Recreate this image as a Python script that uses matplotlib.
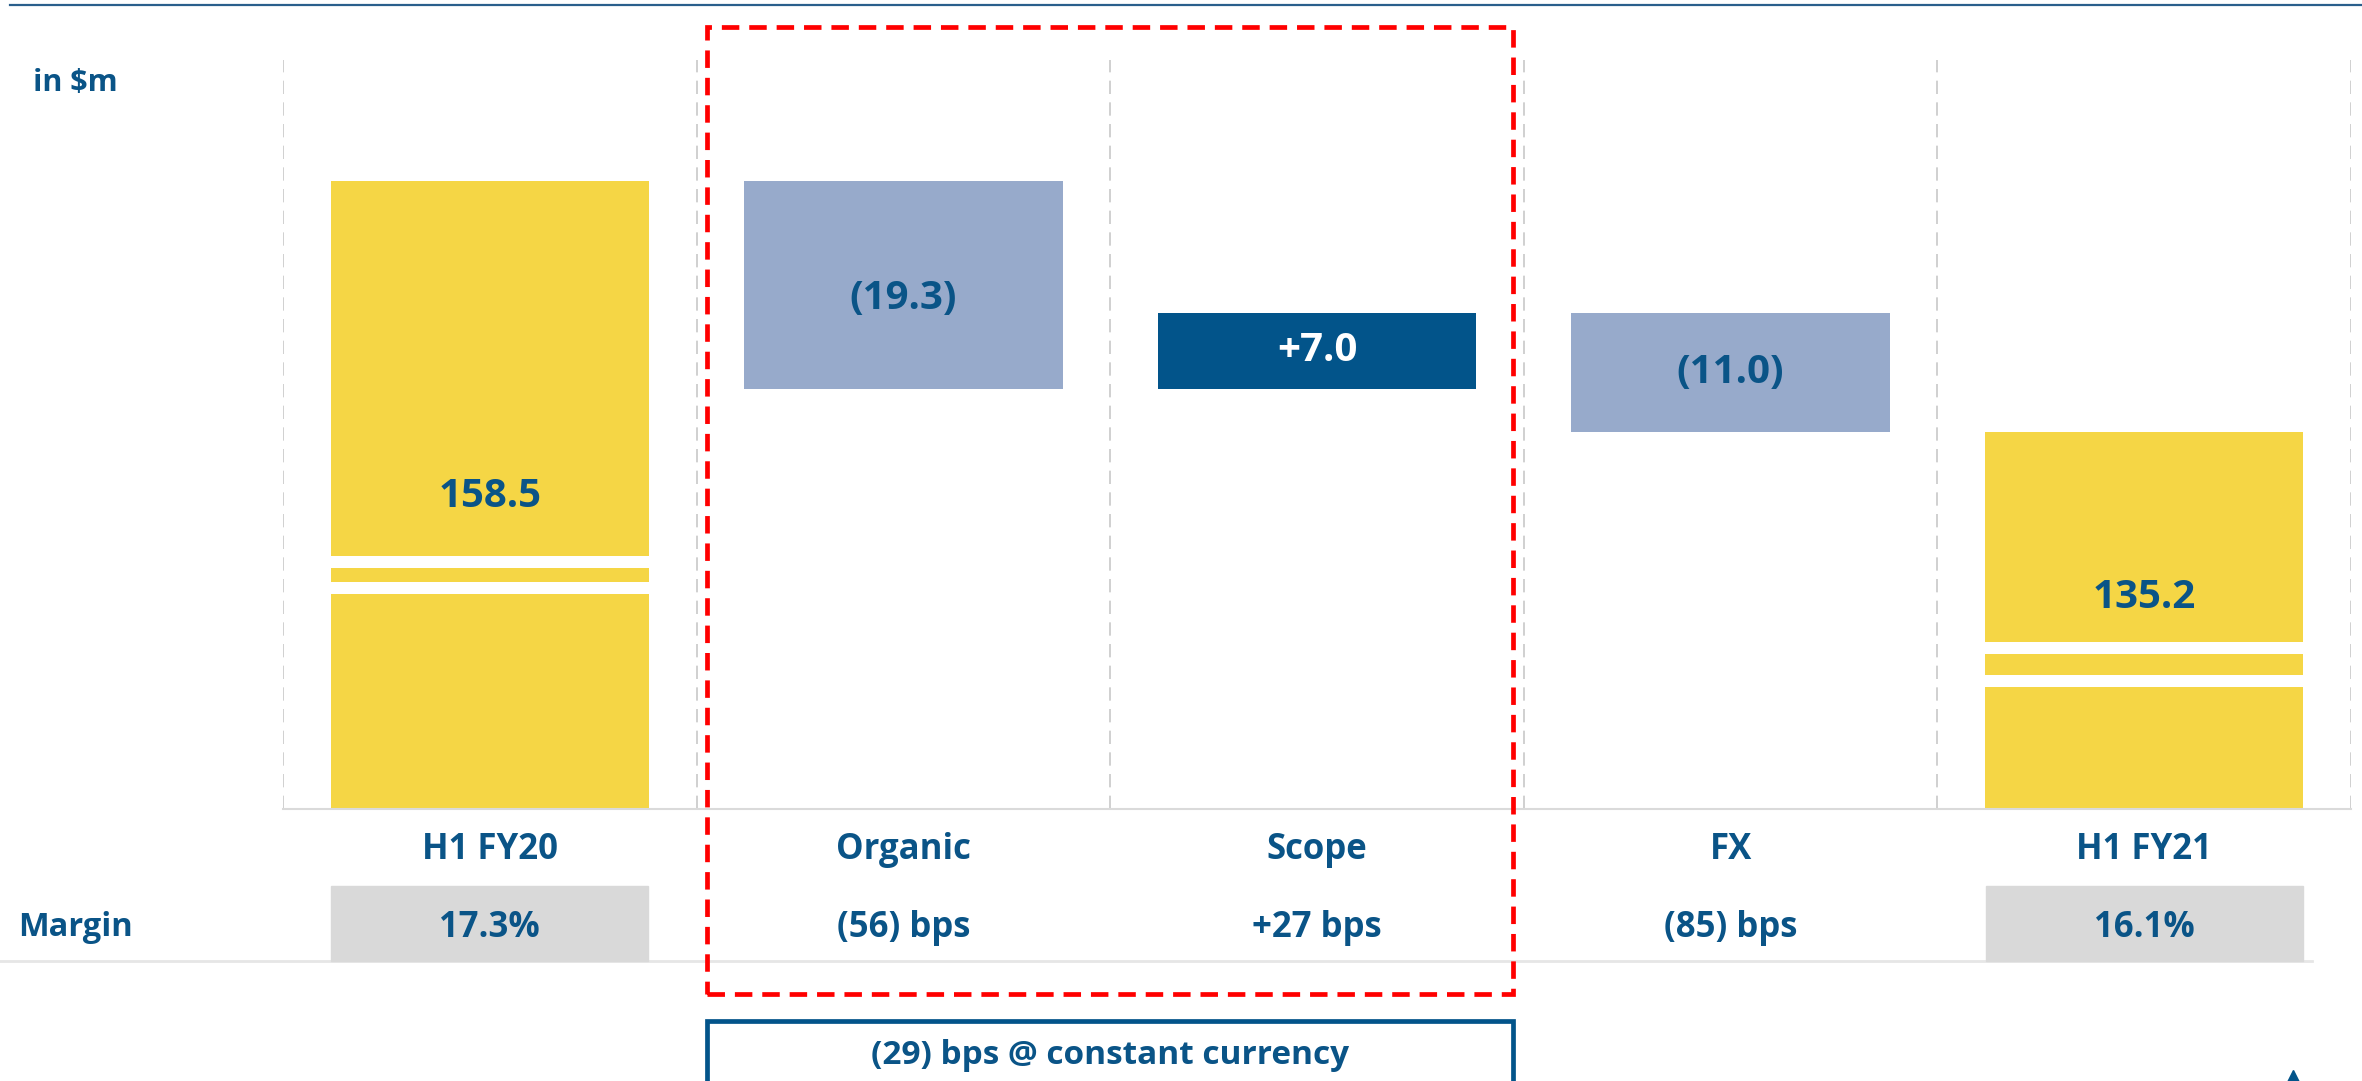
import matplotlib
matplotlib.use("Agg")
import matplotlib.pyplot as plt
from matplotlib import transforms
from matplotlib.lines import Line2D
from matplotlib.patches import Rectangle
import numpy as np

# data
categories = ["H1 FY20", "Organic", "Scope", "FX", "H1 FY21"]
values = [158.5, -19.3, 7.0, -11.0, 135.2]
is_total = [True, False, False, False, True]
margins = ["17.3%", "(56) bps", "+27 bps", "(85) bps", "16.1%"]
unit_label = "in $m"
row_label = "Margin"
note = "(29) bps @ constant currency"

# styling
DARK = "#02548A"
TEXT = "#0A5487"
LIGHT = "#97AACB"
YELLOW = "#F5D645"
BOX_GREY = "#D9D9D9"
SEP_GREY = "#C8C8C8"
BAR_W = 0.77
YLIM = (100.2, 169.7)
# axis-break stripes (white bands) and label heights for the truncated total bars
BREAKS = {0: (123.1, 120.7), 4: (115.1, 112.1)}
STRIPE_H = 1.1
TOTAL_LABEL_Y = {0: 129.2, 4: 119.8}
LABEL_DY = {1: -1.3}

plt.rcParams["font.family"] = ["Open Sans", "DejaVu Sans"]
plt.rcParams["font.weight"] = "bold"

W, H = 2362, 1081
fig = plt.figure(figsize=(W / 100, H / 100), dpi=100)


def fx(px):
    return px / W


def fy(py):
    return 1 - py / H


ax = fig.add_axes([fx(283), fy(809), 2068 / W, 749 / H])

# waterfall geometry
bottoms, heights, colors, labels = [], [], [], []
running = 0.0
for v, tot in zip(values, is_total):
    if tot:
        bottoms.append(0.0)
        heights.append(v)
        colors.append(YELLOW)
        labels.append(f"{v:.1f}")
        running = v
    else:
        bottoms.append(min(running, running + v))
        heights.append(abs(v))
        colors.append(DARK if v > 0 else LIGHT)
        labels.append(f"+{v:.1f}" if v > 0 else f"({-v:.1f})")
        running += v

x = np.arange(len(categories))
ax.bar(x, heights, bottom=bottoms, width=BAR_W, color=colors, zorder=2)

for i, (c1, c2) in BREAKS.items():
    for c in (c1, c2):
        ax.bar(i, STRIPE_H, bottom=c - STRIPE_H / 2, width=BAR_W + 0.01,
               color="white", zorder=3)

for i, lab in enumerate(labels):
    if is_total[i]:
        y = TOTAL_LABEL_Y[i]
        col = TEXT
    else:
        y = bottoms[i] + heights[i] / 2 + LABEL_DY.get(i, 0)
        col = "white" if values[i] > 0 else TEXT
    ax.text(i, y, lab, ha="center", va="center", fontsize=29,
            color=col, zorder=4)

for b in np.arange(-0.5, len(categories), 1.0):
    ax.axvline(b, color=SEP_GREY, lw=1.2, ls=(0, (8, 5)), zorder=1)

ax.set_xlim(-0.5, len(categories) - 0.5)
ax.set_ylim(*YLIM)
for s in ("top", "left", "right"):
    ax.spines[s].set_visible(False)
ax.spines["bottom"].set_color("#DADADA")
ax.spines["bottom"].set_linewidth(1.5)
ax.set_xticks([])
ax.set_yticks([])

blend = transforms.blended_transform_factory(ax.transData, fig.transFigure)

# category labels and margin row
for i, cat in enumerate(categories):
    ax.text(i, fy(850), cat, transform=blend, ha="center", va="center",
            fontsize=25, color=TEXT, clip_on=False)
    if is_total[i]:
        ax.add_patch(Rectangle((i - 0.383, fy(961)), 0.766, 75 / H,
                               transform=blend, color=BOX_GREY,
                               clip_on=False, zorder=1))
    ax.text(i, fy(928), margins[i], transform=blend, ha="center",
            va="center", fontsize=25, color=TEXT, clip_on=False, zorder=2)

fig.text(fx(18), fy(928), row_label, ha="left", va="center",
         fontsize=23.5, color=TEXT)
fig.text(fx(33), fy(83), unit_label, ha="left", va="center",
         fontsize=22, color=TEXT)

fig.add_artist(Line2D([0, fx(2312)], [fy(961), fy(961)], color="#E6E6E6",
                      lw=2, zorder=0))
fig.add_artist(Line2D([fx(10), 1], [fy(5), fy(5)], color="#2A5F8C", lw=1.6))

# red dashed frame around organic + scope
ax.add_patch(Rectangle((0.525, fy(994)), 1.949, (994 - 27) / H,
                       transform=blend, fill=False, ec="#FF0000", lw=3.4,
                       ls=(0, (3.7, 2.1)), clip_on=False, zorder=5))

# constant currency box
ax.add_patch(Rectangle((0.525, fy(1110)), 1.949, (1110 - 1021) / H,
                       transform=blend, fill=False, ec=DARK, lw=3.4,
                       clip_on=False, zorder=5))
ax.text(1.5, fy(1056), note, transform=blend, ha="center", va="center",
        fontsize=24, color=TEXT, clip_on=False)

fig.add_artist(Line2D([fx(2293)], [fy(1076)], marker="^", ms=8,
                      color=DARK, lw=0))

fig.savefig("out.png", dpi=100)
